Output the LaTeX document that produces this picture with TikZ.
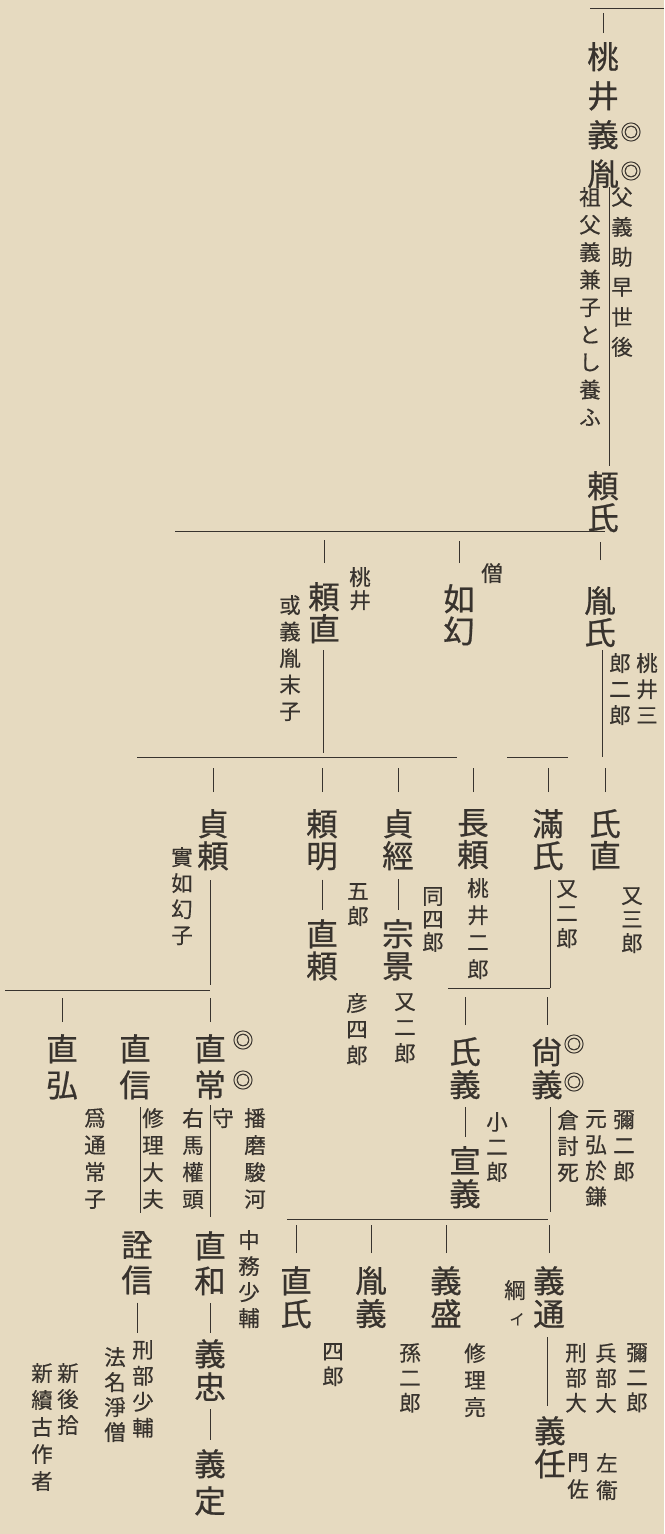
\documentclass[tikz,border=0pt]{standalone}
\usepackage{fontspec}
\newfontfamily\jpf{Noto Sans CJK JP}[FakeBold=0.7]
\newfontfamily\jpn{Noto Sans CJK JP}[FakeBold=0.4]
\definecolor{paper}{HTML}{E6DAC0}
\definecolor{ink}{HTML}{38332E}
\tikzset{
  nm/.style={font={\jpf\fontsize{31.5}{#1}\selectfont}, text=ink, align=center, inner sep=0pt, anchor=north},
  nm/.default=33,
  nt/.style={font={\jpn\fontsize{21.5}{#1}\selectfont}, text=ink, align=center, inner sep=0pt, anchor=north},
  nt/.default=26,
  dm/.style={font={\jpn\fontsize{21}{21}\selectfont}, text=ink, inner sep=0pt},
  ln/.style={draw=ink, line width=1pt},
}
\begin{document}
\begin{tikzpicture}[x=1pt,y=-1pt]
\fill[paper] (0,0) rectangle (664,1534);
\useasboundingbox (0,0) rectangle (664,1534);

% ---------- generation 1
\draw[ln] (590,8) -- (664,8);
\node[nm=39] (yoshitane) at (603,42) {桃\\井\\義\\胤};
\draw[ln] ([yshift=9pt]yoshitane.north) -- ([yshift=29pt]yoshitane.north);
\node[dm] (ym1) at (631,132) {◎};
\node[dm] (ym2) at (631,171) {◎};
\node[nt=30] (yn1) at (622,187) {父\\義\\助\\早\\世\\後};
\node[nt=27.5] (yn2) at (590,187) {祖\\父\\義\\兼\\子\\と\\し\\養\\ふ};
\node[nm=32] (yoriuji) at (603,471) {頼\\氏};
\draw[ln] (609,187) -- (609,466);

% ---------- generation 2
\draw[ln] (175,531) -- (605,531);
\node[nm=32] (tanenuji) at (600,586) {胤\\氏};
\node[nm=32] (nyogen) at (459,584) {如\\幻};
\node[nm=32] (yorinao) at (324,582) {頼\\直};
\draw[ln] ([yshift=26pt]tanenuji.north) -- ([yshift=44pt]tanenuji.north);
\draw[ln] ([yshift=21pt]nyogen.north) -- ([yshift=43pt]nyogen.north);
\draw[ln] ([yshift=19pt]yorinao.north) -- ([yshift=42pt]yorinao.north);
\node[nt] (so) at (492,563) {僧};
\node[nt=23] (momoi1) at (360,567) {桃\\井};
\node[nt=26.5] (aruiwa) at (290,595) {或\\義\\胤\\末\\子};
\node[nt=26] (tn1) at (647,653) {桃\\井\\三};
\node[nt=26] (tn2) at (620,653) {郎\\二\\郎};
\draw[ln] (602,650) -- (602,757);
\draw[ln] (323,650) -- (323,753);

% ---------- generation 3
\draw[ln] (137,757) -- (457,757);
\draw[ln] (507,757) -- (568,757);
\node[nm=32] (sadayori) at (213,809) {貞\\頼};
\node[nm=32] (yoriaki) at (322,809) {頼\\明};
\node[nm=32] (sadatsune) at (398,809) {貞\\經};
\node[nm=32] (nagayori) at (473,809) {長\\頼};
\node[nm=32] (mitsuuji) at (548,809) {滿\\氏};
\node[nm=32] (ujinao) at (605,809) {氏\\直};
\foreach \n in {sadayori,yoriaki,sadatsune,nagayori,mitsuuji,ujinao}
  \draw[ln] ([yshift=17pt]\n.north) -- ([yshift=41pt]\n.north);
\node[nm=32] (naoyori) at (322,919) {直\\頼};
\node[nm=32] (munekage) at (398,919) {宗\\景};
\draw[ln] ([yshift=-9pt]yoriaki.south) -- ([yshift=9pt]naoyori.north);
\draw[ln] ([yshift=-9pt]sadatsune.south) -- ([yshift=9pt]munekage.north);
\node[nt=26] (jitsu) at (182,847) {實\\如\\幻\\子};
\node[nt=25] (goro) at (358,883) {五\\郎};
\node[nt=23] (doshiro) at (433,887) {同\\四\\郎};
\node[nt=27] (momoi2) at (478,878) {桃\\井\\二\\郎};
\node[nt=25] (mata2a) at (567,880) {又\\二\\郎};
\node[nt=24] (mata3) at (632,887) {又\\三\\郎};
\node[nt=26] (hikoshiro) at (357,993) {彦\\四\\郎};
\node[nt=26] (mata2b) at (405,993) {又\\二\\郎};
\draw[ln] (210,880) -- (210,985);
\draw[ln] (550,880) -- (550,988);

% ---------- generation 4
\draw[ln] (5,990) -- (210,990);
\draw[ln] (448,988) -- (550,988);
\node[nm=36] (naohiro) at (62,1034) {直\\弘};
\node[nm=36] (naonobu) at (135,1034) {直\\信};
\node[nm=36] (naotsune) at (210,1034) {直\\常};
\node[nm=33] (ujiyoshi) at (465,1037) {氏\\義};
\node[nm=33] (hisayoshi) at (547,1037) {尙\\義};
\draw[ln] ([yshift=12pt]naohiro.north) -- ([yshift=36pt]naohiro.north);
\draw[ln] ([yshift=12pt]naotsune.north) -- ([yshift=36pt]naotsune.north);
\draw[ln] ([yshift=12pt]ujiyoshi.north) -- ([yshift=40pt]ujiyoshi.north);
\draw[ln] ([yshift=12pt]hisayoshi.north) -- ([yshift=40pt]hisayoshi.north);
\node[dm] (nm1) at (243,1040) {◎};
\node[dm] (nm2) at (243,1080) {◎};
\node[dm] (hm1) at (574,1044) {◎};
\node[dm] (hm2) at (574,1082) {◎};
\node[nm=33] (nobuyoshi) at (465,1146) {宣\\義};
\draw[ln] ([yshift=-8pt]ujiyoshi.south) -- ([yshift=9pt]nobuyoshi.north);
\node[nt=27] (itsune) at (95,1108) {爲\\通\\常\\子};
\node[nt=27] (shuri1) at (153,1108) {修\\理\\大\\夫};
\draw[ln] (140,1107) -- (140,1213);
\node[nt=27] (uma) at (193,1108) {右\\馬\\權\\頭};
\draw[ln] (210,1105) -- (210,1217);
\node[nt] (kami) at (223,1108) {守};
\node[nt=27] (harima) at (255,1108) {播\\磨\\駿\\河};
\node[nt=26] (nakatsu) at (249,1230) {中\\務\\少\\輔};
\node[nt=25] (ko2) at (497,1112) {小\\二\\郎};
\draw[ln] (550,1107) -- (550,1212);
\node[nt=26] (kura) at (568,1110) {倉\\討\\死};
\node[nt=26] (genko) at (596,1110) {元\\弘\\於\\鎌};
\node[nt=26] (ya2a) at (624,1110) {彌\\二\\郎};

% ---------- generation 5 (right)
\draw[ln] (287,1219) -- (548,1219);
\node[nm=33] (naouji) at (296,1266) {直\\氏};
\node[nm=33] (taneyoshi) at (371,1266) {胤\\義};
\node[nm=33] (yoshimori) at (446,1266) {義\\盛};
\node[nm=33] (yoshimichi) at (549,1266) {義\\通};
\foreach \n in {naouji,taneyoshi,yoshimori,yoshimichi}
  \draw[ln] ([yshift=13pt]\n.north) -- ([yshift=41pt]\n.north);
\node[nt] (tsuna) at (515,1280) {綱};
\node[font={\jpn\fontsize{15}{15}\selectfont}, text=ink, inner sep=0pt, anchor=north] (i) at (517,1313) {イ};
\node[nt=25] (shiro) at (333,1343) {四\\郎};
\node[nt=25] (mago) at (410,1343) {孫\\二\\郎};
\node[nt=27] (shuri2) at (475,1343) {修\\理\\亮};
\node[nm=33] (yoshito) at (550,1416) {義\\任};
\draw[ln] (547,1337) -- (547,1406);
\node[nt=25] (ya2b) at (637,1343) {彌\\二\\郎};
\node[nt=25] (hyobu) at (606,1343) {兵\\部\\大};
\node[nt=25] (gyobu1) at (576,1343) {刑\\部\\大};
\node[nt=27] (saei) at (607,1453) {左\\衞};
\node[nt=27] (monsa) at (578,1453) {門\\佐};

% ---------- generation 5 (left)
\node[nm=35] (naokazu) at (210,1231) {直\\和};
\node[nm=33] (yoshitada) at (210,1339) {義\\忠};
\node[nm=37] (yoshisada) at (210,1449) {義\\定};
\draw[ln] ([yshift=-8pt]naokazu.south) -- ([yshift=6pt]yoshitada.north);
\draw[ln] ([yshift=-8pt]yoshitada.south) -- ([yshift=9pt]yoshisada.north);
\node[nm=35] (akinobu) at (137,1231) {詮\\信};
\draw[line width=0.6pt, draw=ink] ([yshift=-8pt]akinobu.south) -- ([yshift=-38pt]akinobu.south);
\node[nt=26] (gyobu2) at (143,1340) {刑\\部\\少\\輔};
\node[nt=25] (homyo) at (115,1347) {法\\名\\淨\\僧};
\node[nt=26] (shingo) at (68,1363) {新\\後\\拾};
\node[nt=27] (shinzoku) at (42,1363) {新\\續\\古\\作\\者};
\end{tikzpicture}
\end{document}
